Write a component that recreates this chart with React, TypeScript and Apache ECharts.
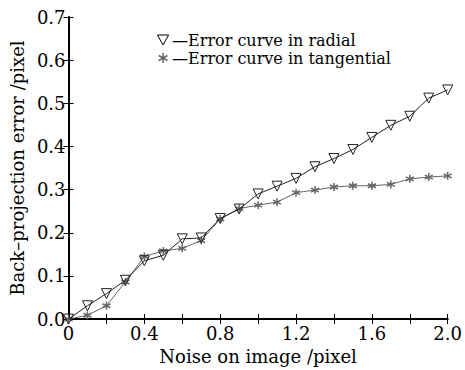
import React, { useEffect, useRef } from "react";
import * as echarts from "echarts";

const noise = [0, 0.1, 0.2, 0.3, 0.4, 0.5, 0.6, 0.7, 0.8, 0.9, 1.0, 1.1, 1.2, 1.3, 1.4, 1.5, 1.6, 1.7, 1.8, 1.9, 2.0];
const radial = [0, 0.031, 0.059, 0.09, 0.135, 0.148, 0.186, 0.188, 0.233, 0.255, 0.29, 0.308, 0.326, 0.353, 0.372, 0.393, 0.421, 0.449, 0.47, 0.512, 0.531];
const tangential = [0, 0.009, 0.031, 0.086, 0.145, 0.158, 0.164, 0.182, 0.232, 0.256, 0.264, 0.271, 0.293, 0.299, 0.306, 0.309, 0.309, 0.312, 0.325, 0.329, 0.332];
const seriesNames = ["Error curve in radial", "Error curve in tangential"];
const xName = "Noise on image /pixel";
const yName = "Back–projection error /pixel";

const FONT = "DejaVu Serif";
const starPath = "path://M0,-5L0,5M-4.33,-2.5L4.33,2.5M-4.33,2.5L4.33,-2.5";
const triPath = "path://M-5,-4L5,-4L0,5Z";

export default function App() {
  const ref = useRef<HTMLDivElement>(null);
  useEffect(() => {
    const chart = echarts.init(ref.current!, null, { renderer: "svg" });
    const axisLine = { show: true, lineStyle: { color: "#000", width: 1.5 } };
    const tick = { show: true, inside: true, length: 5, lineStyle: { color: "#000", width: 1 } };
    chart.setOption({
      animation: false,
      backgroundColor: "#fff",
      grid: { left: 65, right: 15, top: 17, bottom: 50, containLabel: false },
      legend: {
        orient: "vertical",
        left: 152,
        top: 27,
        itemGap: 2,
        itemWidth: 12,
        itemHeight: 10,
        textStyle: { fontFamily: FONT, fontSize: 16, color: "#000", padding: [0, 0, 0, -2] },
        formatter: (n: string) => "—" + n,
        data: [
          { name: seriesNames[0], icon: triPath, itemStyle: { color: "#fff", borderColor: "#000", borderWidth: 1 } },
          { name: seriesNames[1], icon: starPath, itemStyle: { color: "#666", borderColor: "#666", borderWidth: 1.5 } },
        ],
      },
      xAxis: [
        {
          type: "value",
          min: 0,
          max: 2,
          interval: 0.2,
          position: "bottom",
          name: xName,
          nameLocation: "middle",
          nameGap: 26,
          nameTextStyle: { fontFamily: FONT, fontSize: 18, color: "#000" },
          axisLine: { show: true, lineStyle: { color: "#000", width: 2 } },
          axisTick: tick,
          splitLine: { show: false },
          axisLabel: {
            fontFamily: FONT,
            fontSize: 18,
            color: "#000",
            margin: 5,
            formatter: (v: number) => {
              const k = Math.round(v * 10);
              if (k % 4 !== 0) return "";
              return k === 0 ? "0" : v.toFixed(1);
            },
          },
        },
        {
          type: "value",
          min: 0,
          max: 2,
          interval: 0.2,
          position: "top",
          axisLine,
          axisTick: tick,
          axisLabel: { show: false },
          splitLine: { show: false },
        },
      ],
      yAxis: [
        {
          type: "value",
          min: 0,
          max: 0.7,
          interval: 0.1,
          position: "left",
          name: yName,
          nameLocation: "middle",
          nameGap: 37,
          nameTextStyle: { fontFamily: FONT, fontSize: 18, color: "#000" },
          axisLine: { show: true, lineStyle: { color: "#000", width: 2 } },
          axisTick: tick,
          splitLine: { show: false },
          axisLabel: {
            fontFamily: FONT,
            fontSize: 18,
            color: "#000",
            margin: 3,
            formatter: (v: number) => v.toFixed(1),
          },
        },
        {
          type: "value",
          min: 0,
          max: 0.7,
          interval: 0.1,
          position: "right",
          axisLine,
          axisTick: tick,
          axisLabel: { show: false },
          splitLine: { show: false },
        },
      ],
      series: [
        {
          name: seriesNames[1],
          type: "line",
          data: noise.map((x, i) => [x, tangential[i]]),
          symbol: starPath,
          symbolSize: 8,
          lineStyle: { color: "#666", width: 1 },
          itemStyle: { color: "#666", borderColor: "#666", borderWidth: 1.5 },
          z: 2,
        },
        {
          name: seriesNames[0],
          type: "line",
          data: noise.map((x, i) => [x, radial[i]]),
          symbol: triPath,
          symbolSize: 10,
          lineStyle: { color: "#222", width: 1 },
          itemStyle: { color: "rgba(255,255,255,0)", borderColor: "#222", borderWidth: 1 },
          z: 3,
        },
      ],
    });
    return () => chart.dispose();
  }, []);
  return <div ref={ref} style={{ position: "fixed", left: 0, top: 0, width: 465, height: 370 }} />;
}
